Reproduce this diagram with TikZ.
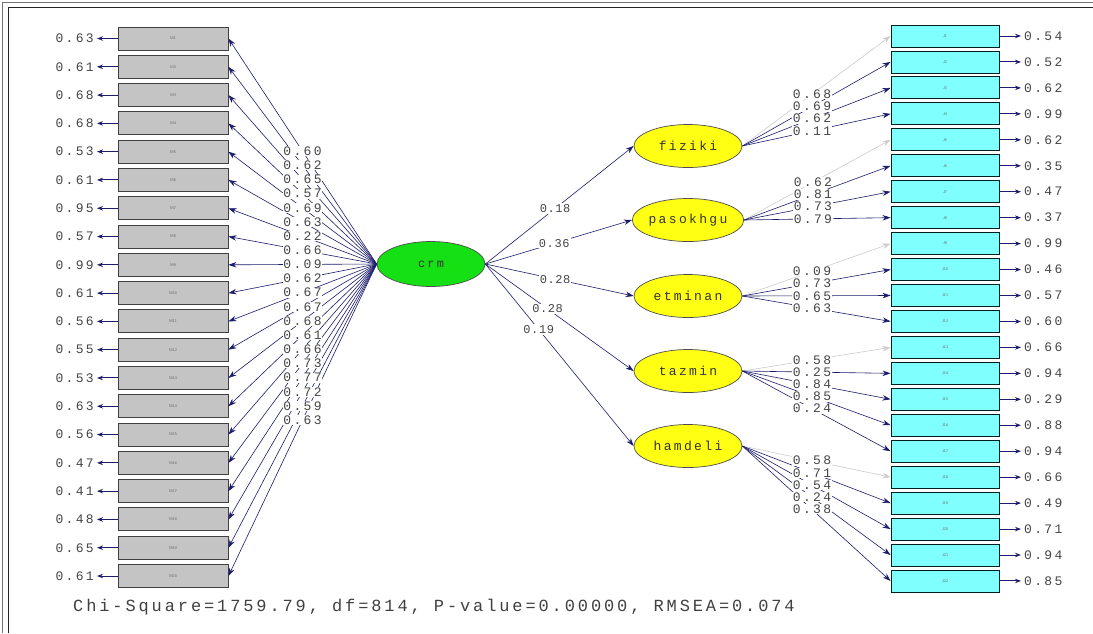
\documentclass[tikz,border=0pt]{standalone}
\usepackage{fontspec}
\newfontfamily\lis[LetterSpace=18]{Liberation Mono}
\newfontfamily\lisb[LetterSpace=5]{Liberation Mono}
\newfontfamily\lisc[LetterSpace=17]{Liberation Mono}
\usetikzlibrary{arrows.meta,shapes.geometric}
\definecolor{navy}{HTML}{1C1C6E}
\definecolor{mgray}{HTML}{C4C4C4}
\definecolor{jcyan}{HTML}{80FFFF}
\definecolor{crmgreen}{HTML}{14E014}
\definecolor{latyellow}{HTML}{FFFF14}
\definecolor{txt}{HTML}{454545}
\definecolor{lg}{HTML}{CCCCCC}
\tikzset{
  mbox/.style={draw=black!75, fill=mgray, minimum width=110pt, minimum height=23pt, inner sep=0pt, line width=0.9pt, font=\sffamily\fontsize{4}{4}\selectfont, text=black!60},
  jbox/.style={draw=black!75!teal, fill=jcyan, minimum width=108pt, minimum height=22pt, inner sep=0pt, line width=0.9pt, font=\sffamily\fontsize{4}{4}\selectfont, text=black!60},
  lat/.style={ellipse, draw=black!70, fill=latyellow, minimum width=108pt, minimum height=43pt, inner sep=0pt, line width=0.7pt, font=\lis\fontsize{13}{13}\selectfont, text=black!80},
  val/.style={font=\lis\fontsize{13}{13}\selectfont, text=txt, inner sep=0pt},
  lab/.style={font=\lis\fontsize{13}{13}\selectfont, text=txt, inner sep=0.6pt, fill=white},
  labm/.style={font=\lisb\fontsize{12}{12}\selectfont, text=txt, inner sep=1pt, fill=white},
  arr/.style={-{Stealth[length=8pt,width=5.5pt]}, draw=navy, line width=0.6pt},
  earr/.style={-{Stealth[length=6pt,width=4.5pt]}, draw=navy, line width=1pt},
}
\begin{document}
\begin{tikzpicture}[x=1pt,y=-1pt]
\useasboundingbox (0,0) rectangle (1093,633);
\fill[white] (0,0) rectangle (1093,633);
% frame
\draw[black!55, line width=1.3pt] (2.5,633) -- (2.5,2.5) -- (1093,2.5);
\draw[black!85, line width=0.9pt] (8.5,633) -- (8.5,7.5) -- (1093,7.5);

% central latent
\node[ellipse, draw=black!70, fill=crmgreen, minimum width=108pt, minimum height=45pt, inner sep=0pt, line width=0.7pt, font=\lis\fontsize{12}{12}\selectfont, text=black!80] (crm) at (431,264) {crm};

% left indicators
\foreach \ev [count=\i] in {0.63,0.61,0.68,0.68,0.53,0.61,0.95,0.57,0.99,0.61,0.56,0.55,0.53,0.63,0.56,0.47,0.41,0.48,0.65,0.61} {
  \pgfmathsetmacro\yy{38.5+28.29*(\i-1)}
  \node[mbox] (M\i) at (173,\yy) {M\i};
  \node[val, anchor=east] (eM\i) at (94,\yy) {\ev};
  \draw[earr] (M\i.west) -- ([xshift=3pt]eM\i.east);
}
\foreach \i in {1,...,20} {
  \draw[arr] (crm.west) -- (M\i.east) coordinate[pos=0.5] (pM\i);
}
\foreach \lv [count=\i] in {0.60,0.62,0.65,0.57,0.69,0.63,0.22,0.66,0.09,0.62,0.67,0.67,0.68,0.61,0.66,0.73,0.77,0.72,0.59,0.63} {
  \node[lab] (lM\i) at (pM\i) {\lv};
}

% second-order latents
\node[lat] (fiz) at (688,146) {fiziki};
\node[lat] (pas) at (688,220) {pasokhgu};
\node[lat] (etm) at (688,296) {etminan};
\node[lat] (taz) at (688,371) {tazmin};
\node[lat] (ham) at (688,446) {hamdeli};

\draw[arr] (crm.east) -- (fiz.west) node[labm, pos=0.47] {0.18};
\draw[arr] (crm.east) -- (pas.west) node[labm, pos=0.47] {0.36};
\draw[arr] (crm.east) -- (etm.west) node[labm, pos=0.47] {0.28};
\draw[arr] (crm.east) -- (taz.west) node[labm, pos=0.42] {0.28};
\draw[arr] (crm.east) -- (ham.west) node[labm, pos=0.36] {0.19};

% right indicators
\foreach \ev [count=\i] in {0.54,0.52,0.62,0.99,0.62,0.35,0.47,0.37,0.99,0.46,0.57,0.60,0.66,0.94,0.29,0.88,0.94,0.66,0.49,0.71,0.94,0.85} {
  \pgfmathsetmacro\yy{36+25.95*(\i-1)}
  \node[jbox] (J\i) at (945,\yy) {J\i};
  \node[val, anchor=west] (eJ\i) at (1024,\yy) {\ev};
  \draw[earr] (J\i.east) -- ([xshift=-3pt]eJ\i.west);
}
\foreach \j/\l/\c in {1/fiz/lg,2/fiz/navy,3/fiz/navy,4/fiz/navy,
  5/pas/lg,6/pas/navy,7/pas/navy,8/pas/navy,
  9/etm/lg,10/etm/navy,11/etm/navy,12/etm/navy,
  13/taz/lg,14/taz/navy,15/taz/navy,16/taz/navy,17/taz/navy,
  18/ham/lg,19/ham/navy,20/ham/navy,21/ham/navy,22/ham/navy} {
  \draw[arr, draw=\c] (\l.east) -- (J\j.west) coordinate[pos=0.47] (pJ\j);
}
\foreach \v [count=\j] in {0.68,0.69,0.62,0.11,0.62,0.81,0.73,0.79,0.09,0.73,0.65,0.63,0.58,0.25,0.84,0.85,0.24,0.58,0.71,0.54,0.24,0.38} {
  \node[lab] (lJ\j) at (pJ\j) {\v};
}

% fit statistics
\node[font=\lisc\fontsize{17}{17}\selectfont, text=black!75, anchor=west, inner sep=0pt] (fit) at (73,607) {Chi-Square=1759.79, df=814, P-value=0.00000, RMSEA=0.074};
\end{tikzpicture}
\end{document}
